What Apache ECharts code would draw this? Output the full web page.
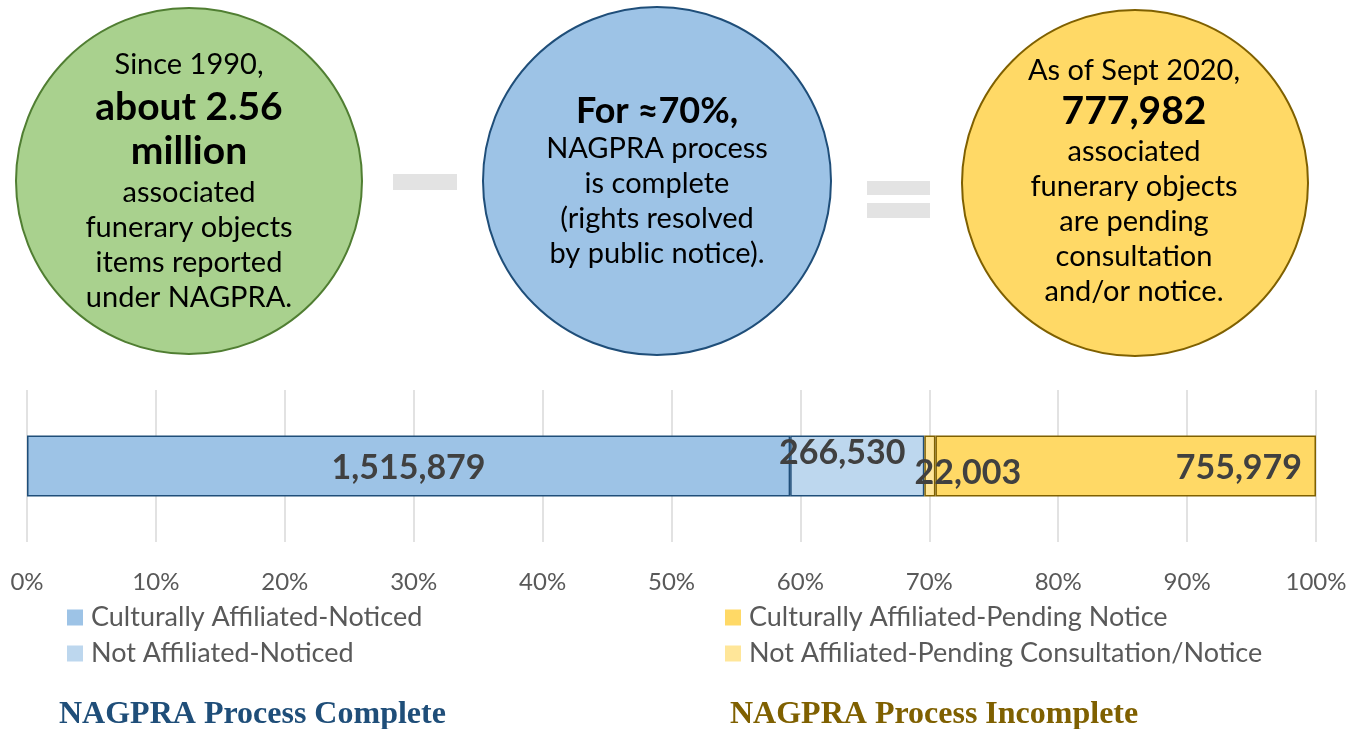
<!DOCTYPE html>
<html>
<head>
<meta charset="utf-8">
<script src="https://cdn.jsdelivr.net/npm/echarts@6/dist/echarts.min.js"></script>
<style>
  html, body { margin: 0; padding: 0; background: #fff; }
  #container { width: 1360px; height: 729px; }
</style>
</head>
<body>
<div id="container"></div>
<script>
// data
var categories = ['NAGPRA'];
var seriesNames = [
  'Culturally Affiliated-Noticed',
  'Not Affiliated-Noticed',
  'Not Affiliated-Pending Consultation/Notice',
  'Culturally Affiliated-Pending Notice'
];
var counts = [1515879, 266530, 22003, 755979];
var tickLabels = ['0%', '10%', '20%', '30%', '40%', '50%', '60%', '70%', '80%', '90%', '100%'];
var completeLegend = ['Culturally Affiliated-Noticed', 'Not Affiliated-Noticed'];
var incompleteLegend = ['Culturally Affiliated-Pending Notice', 'Not Affiliated-Pending Consultation/Notice'];

var fills = ['#9DC3E6', '#BDD7EE', '#FFE699', '#FFD966'];
var borders = ['#1F4E79', '#1F4E79', '#7F6000', '#7F6000'];
// label tweaks so it looks like the slide
var labelPos = ['inside', 'inside', 'inside', 'insideRight'];
var labelOffset = [[0, 2], [-15, -13], [38, 7], [-2, 2]];

var total = 0;
var i;
for (i = 0; i < counts.length; i++) total += counts[i];

var FONT = 'Lato, "Open Sans", sans-serif';

function fmt(n) {
  return n.toString().replace(/\B(?=(\d{3})+(?!\d))/g, ',');
}

var series = [];
for (i = 0; i < counts.length; i++) {
  series.push({
    name: seriesNames[i],
    type: 'bar',
    stack: 'total',
    barWidth: 61,
    data: [counts[i] / total * 100],
    itemStyle: { color: fills[i], borderColor: borders[i], borderWidth: 1.5 },
    label: {
      show: true,
      position: labelPos[i],
      offset: labelOffset[i],
      distance: 12,
      formatter: (function (c) { return function () { return fmt(c); }; })(counts[i]),
      fontFamily: FONT,
      fontWeight: 'bold',
      fontSize: 34,
      color: '#404040'
    },
    emphasis: { disabled: true }
  });
}

// text in the three circles
function circleText(cx, lines) {
  var out = [];
  for (var k = 0; k < lines.length; k++) {
    out.push({
      type: 'text',
      z: 10,
      style: {
        text: lines[k][0],
        x: cx,
        y: lines[k][1],
        fill: '#000',
        fontFamily: FONT,
        fontWeight: lines[k][2] ? 'bold' : 'normal',
        fontSize: lines[k][3] || (lines[k][2] ? 39 : 29),
        align: 'center',
        verticalAlign: 'middle'
      }
    });
  }
  return out;
}

var graphics = [
  { type: 'circle', shape: { cx: 189, cy: 181, r: 173 }, style: { fill: '#A9D18E', stroke: '#507E32', lineWidth: 2 } },
  { type: 'circle', shape: { cx: 657, cy: 181, r: 174 }, style: { fill: '#9DC3E6', stroke: '#1F4E79', lineWidth: 2 } },
  { type: 'circle', shape: { cx: 1135, cy: 183, r: 173 }, style: { fill: '#FFD966', stroke: '#7F6000', lineWidth: 2 } },
  { type: 'rect', shape: { x: 393, y: 174, width: 64, height: 16 }, style: { fill: '#E3E3E3' } },
  { type: 'rect', shape: { x: 867, y: 181, width: 63, height: 14 }, style: { fill: '#E3E3E3' } },
  { type: 'rect', shape: { x: 867, y: 203, width: 63, height: 15 }, style: { fill: '#E3E3E3' } }
];
graphics = graphics.concat(circleText(189, [
  ['Since 1990,', 65],
  ['about 2.56', 107, true],
  ['million', 151, true],
  ['associated', 193],
  ['funerary objects', 228],
  ['items reported', 263],
  ['under NAGPRA.', 298]
]));
graphics = graphics.concat(circleText(657, [
  ['For \u224870%,', 111, true, 36],
  ['NAGPRA process', 149],
  ['is complete', 184],
  ['(rights resolved', 219],
  ['by public notice).', 254]
]));
graphics = graphics.concat(circleText(1134, [
  ['As of Sept 2020,', 71],
  ['777,982', 111, true],
  ['associated', 152],
  ['funerary objects', 187],
  ['are pending', 222],
  ['consultation', 257],
  ['and/or notice.', 292]
]));

var legendBase = {
  orient: 'vertical',
  top: 604,
  padding: 0,
  itemWidth: 16,
  itemHeight: 16,
  itemGap: 9,
  icon: 'rect',
  selectedMode: false,
  itemStyle: { borderWidth: 0 },
  textStyle: { fontFamily: FONT, fontSize: 27, color: '#595959', padding: [0, 0, 0, 3] }
};

var myChart = echarts.init(document.getElementById('container'));
var option = {
  animation: false,
  backgroundColor: '#fff',
  title: [
    {
      text: 'NAGPRA Process Complete',
      left: 59, top: 699,
      padding: 0,
      textStyle: { fontFamily: '"Liberation Serif", "Times New Roman", serif', fontWeight: 'bold', fontSize: 32, color: '#1F4E79' }
    },
    {
      text: 'NAGPRA Process Incomplete',
      left: 730, top: 699,
      padding: 0,
      textStyle: { fontFamily: '"Liberation Serif", "Times New Roman", serif', fontWeight: 'bold', fontSize: 32, color: '#7F6000' }
    }
  ],
  legend: [
    Object.assign({}, legendBase, { left: 67, data: completeLegend }),
    Object.assign({}, legendBase, { left: 725, data: incompleteLegend })
  ],
  grid: { left: 27, right: 44, top: 390, bottom: 187 },
  xAxis: {
    type: 'value',
    min: 0,
    max: 100,
    interval: 10,
    axisLine: { show: false },
    axisTick: { show: false },
    splitLine: { lineStyle: { color: '#D9D9D9', width: 1.5 } },
    axisLabel: {
      margin: 28,
      fontFamily: FONT,
      fontSize: 24,
      color: '#595959',
      formatter: function (v) { return tickLabels[Math.round(v / 10)]; }
    }
  },
  yAxis: {
    type: 'category',
    data: categories,
    show: false
  },
  graphic: graphics,
  series: series
};
myChart.setOption(option);
</script>
</body>
</html>
